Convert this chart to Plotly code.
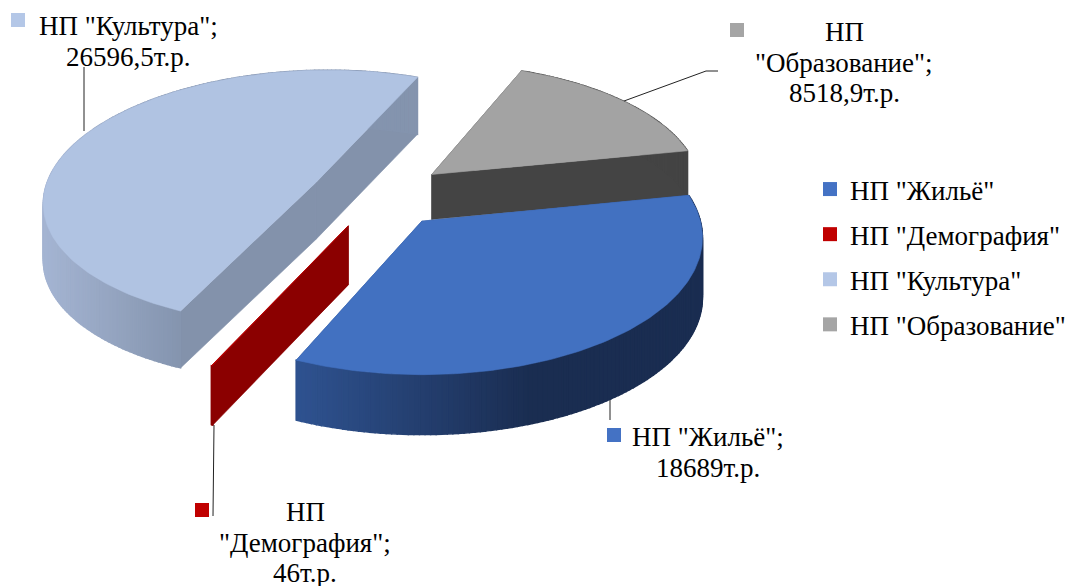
import math
import plotly.graph_objects as go

categories = ['НП "Жильё"', 'НП "Демография"', 'НП "Культура"', 'НП "Образование"']
values = [18689, 46, 26596.5, 8518.9]
value_labels = ['18689т.р.', '46т.р.', '26596,5т.р.', '8518,9т.р.']

TOP = ['#4271c1', '#c00000', '#b0c3e2', '#a3a3a3']
KEY = ['#4472c4', '#c00000', '#b4c7e7', '#a5a5a5']
CUT = ['#2f5291', '#8b0000', '#8392ab', '#444444']
WALL_L = ['#2f5391', '#8b0000', '#a4b4d2', '#444444']
WALL_R = ['#1a2d51', '#8b0000', '#8494ae', '#444444']
WALL_X = [(293, 530), (0, 1), (45, 183), (0, 1)]
DEPTH = [60, 59, 57, 45]
FONT = 'Liberation Serif, Times New Roman, serif'
TXT = 27
LINE_H = 30.5

CX, CY, SX, SY, PERSP, EXPLODE, SHEAR = 378.5, 195, 272, 128.5, 0.119, 0.255, 6
START = 11.3


def project(X, Y):
    s = 1 / (1 + PERSP * Y)
    return CX + SX * X * s + SHEAR * Y, CY - SY * Y * s


def hex_mix(a, b, t):
    t = max(0, min(1, t))
    ca = [int(a[i:i + 2], 16) for i in (1, 3, 5)]
    cb = [int(b[i:i + 2], 16) for i in (1, 3, 5)]
    return '#%02x%02x%02x' % tuple(round(p + (q - p) * t) for p, q in zip(ca, cb))


total = sum(values)
slices = []
ang = START
for i, v in enumerate(values):
    sweep = v / total * 360
    a0, a1 = ang, ang - sweep
    mid = math.radians((a0 + a1) / 2)
    ex, ey = EXPLODE * math.cos(mid), EXPLODE * math.sin(mid)
    n = max(2, int(sweep))
    rim = []
    for k in range(n + 1):
        th = math.radians(a0 + (a1 - a0) * k / n)
        rim.append(project(ex + math.cos(th), ey + math.sin(th)))
    slices.append(dict(i=i, apex=project(ex, ey), rim=rim))
    ang = a1


def poly(xs, ys, color, w=0.6):
    return go.Scatter(x=xs, y=ys, mode='lines', fill='toself', fillcolor=color,
                      line=dict(color=color, width=w), showlegend=False, hoverinfo='skip')


fig = go.Figure()
for idx in (2, 3, 1, 0):
    sl = slices[idx]
    d = DEPTH[idx]
    ax, ay = sl['apex']
    rim = sl['rim']
    for (px, py) in (rim[0], rim[-1]):
        fig.add_trace(poly([ax, px, px, ax, ax], [ay, py, py + d, ay + d, ay], CUT[idx]))
    for (p, q) in zip(rim[:-1], rim[1:]):
        xm = (p[0] + q[0]) / 2
        x0, x1 = WALL_X[idx]
        col = hex_mix(WALL_L[idx], WALL_R[idx], (xm - x0) / (x1 - x0))
        fig.add_trace(poly([p[0], q[0], q[0], p[0], p[0]],
                           [p[1], q[1], q[1] + d, p[1] + d, p[1]], col, 1.4))
    fig.add_trace(poly([ax] + [p[0] for p in rim] + [ax],
                       [ay] + [p[1] for p in rim] + [ay], TOP[idx]))

# leader lines
for xs, ys in [([84, 84], [67, 131]), ([624, 706, 718], [101, 71, 71]),
               ([610, 610], [400, 420]), ([214, 213], [425, 516])]:
    fig.add_trace(go.Scatter(x=xs, y=ys, mode='lines', line=dict(color='#222222', width=1),
                             showlegend=False, hoverinfo='skip'))

# keys of the data labels
fig.add_trace(go.Scatter(x=[614, 202, 18, 737], y=[435, 510, 20, 30], mode='markers',
                         marker=dict(symbol='square', size=14, color=KEY, line=dict(width=0)),
                         showlegend=False, hoverinfo='skip'))

# data labels, one annotation per line so that the line spacing can be set
label_pos = [(708, 437), (305, 512), (128, 26), (844, 32)]
label_lines = [
    [f'{categories[0]};', value_labels[0]],
    ['НП', '"Демография";', value_labels[1]],
    [f'{categories[2]};', value_labels[2]],
    ['НП', '"Образование";', value_labels[3]],
]
for (x, y), lines in zip(label_pos, label_lines):
    for k, t in enumerate(lines):
        fig.add_annotation(x=x, y=y + k * LINE_H, text=t, showarrow=False, align='center',
                           font=dict(family=FONT, size=TXT, color='#000000'))

# legend
for c, col in zip(categories, KEY):
    fig.add_trace(go.Scatter(x=[None], y=[None], mode='markers', name=c, legendgroup=c,
                             marker=dict(symbol='square', size=14, color=col, line=dict(width=0))))

fig.update_layout(
    width=1067, height=586, margin=dict(l=0, r=0, t=0, b=0, autoexpand=False),
    paper_bgcolor='white', plot_bgcolor='white',
    xaxis=dict(range=[0, 1067], visible=False, fixedrange=True),
    yaxis=dict(range=[586, 0], visible=False, fixedrange=True),
    legend=dict(x=810 / 1067, y=1 - 165 / 586, xanchor='left', yanchor='top',
                tracegroupgap=7, itemsizing='trace',
                font=dict(family=FONT, size=TXT, color='#000000'),
                bgcolor='rgba(0,0,0,0)'),
)
fig.write_html('out.html', config={'displayModeBar': False},
               post_script="document.body.style.margin='0';")
